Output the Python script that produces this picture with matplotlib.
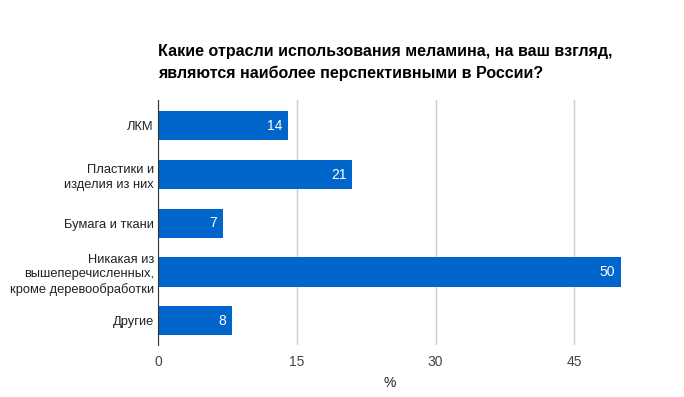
import matplotlib.pyplot as plt

categories = ['ЛКМ', 'Пластики и\nизделия из них', 'Бумага и ткани',
              'Никакая из\nвышеперечисленных,\nкроме деревообработки', 'Другие']
values = [14, 21, 7, 50, 8]
xticks = [0, 15, 30, 45]

plt.rcParams['font.family'] = ['Liberation Sans', 'DejaVu Sans']

fig = plt.figure(figsize=(6.84, 3.97), dpi=100)
ax = fig.add_axes([158/684, 1 - 345/397, (621 - 158)/684, 245/397])

pos = range(len(categories))
ax.barh(pos, values, height=0.6, color='#0066cc', zorder=3)
for p, v in zip(pos, values):
    ax.text(v - 0.6, p, str(v), color='white', ha='right', va='center', fontsize=10, zorder=4)

ax.set_xlim(0, 50.05)
ax.set_ylim(4.5, -0.53)
ax.set_yticks(list(pos))
ax.set_yticklabels(categories, fontsize=9.3, color='#222222', linespacing=1.3)
ax.set_xticks(xticks)
ax.set_xticklabels([str(t) for t in xticks], fontsize=10, color='#444444')
ax.tick_params(length=0, pad=7)
ax.tick_params(axis='y', pad=3)
ax.grid(axis='x', color='#cccccc', linewidth=1, zorder=0)
for s in ['top', 'right', 'bottom']:
    ax.spines[s].set_visible(False)
ax.spines['left'].set_color('#333333')
ax.spines['left'].set_zorder(5)
ax.set_xlabel('%', fontsize=10, color='#222222', labelpad=5)

fig.text(158/684, 1 - 44/397, 'Какие отрасли использования меламина, на ваш взгляд,\nявляются наиболее перспективными в России?',
         fontsize=11.5, fontweight='bold', color='#000000', va='top', linespacing=1.5)

fig.savefig('out.png', dpi=100)
